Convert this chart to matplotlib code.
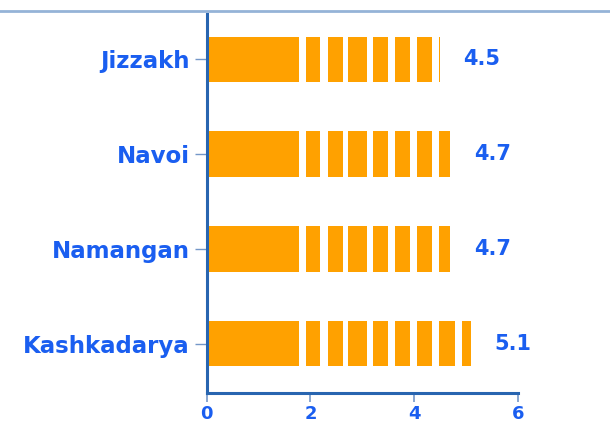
import matplotlib
matplotlib.use('Agg')
import matplotlib.pyplot as plt
from matplotlib.lines import Line2D

# data
regions = ['Kashkadarya', 'Namangan', 'Navoi', 'Jizzakh']
values = [5.1, 4.7, 4.7, 4.5]
xticks = [0, 2, 4, 6]

# white cuts across the bars (style only)
gaps = [(1.77, 1.91), (2.18, 2.34), (2.63, 2.72), (3.09, 3.20),
        (3.49, 3.63), (3.92, 4.05), (4.34, 4.48), (4.79, 4.92)]

bar_col = '#ffa100'
txt_col = '#1a5ef0'
spine_col = '#2865b0'
tick_col = '#7497c8'

fig = plt.figure(figsize=(6.1, 4.21), dpi=100)
ax = fig.add_axes([0.339, 0.0665, 0.51, 0.9005])

h = 0.48
for i, v in enumerate(values):
    segs = []
    start = 0.0
    for g0, g1 in gaps:
        if g0 >= v:
            break
        segs.append((start, g0 - start))
        start = g1
    if start < v:
        segs.append((start, v - start))
    ax.broken_barh(segs, (i - h / 2, h), facecolors=bar_col, edgecolor='none')
    ax.text(v + 0.45, i, '{}'.format(v), color=txt_col, fontsize=15,
            fontweight='bold', va='center', ha='left')

ax.set_xlim(0, 6)
ax.set_ylim(-0.52, 3.48)
ax.set_yticks(range(len(regions)))
ax.set_yticklabels(regions)
ax.set_xticks(xticks)

for s in ['top', 'right']:
    ax.spines[s].set_visible(False)
for s in ['left', 'bottom']:
    ax.spines[s].set_color(spine_col)
    ax.spines[s].set_linewidth(2.2)

ax.tick_params(axis='y', length=8.5, width=1, color=tick_col, pad=4,
               labelsize=16.5, labelcolor=txt_col)
ax.tick_params(axis='x', length=6.5, width=1.2, color=tick_col, pad=2,
               labelsize=13, labelcolor=txt_col)
for lab in ax.get_yticklabels() + ax.get_xticklabels():
    lab.set_fontweight('bold')

# thin frame line at the top of the picture
fig.add_artist(Line2D([0, 1], [1 - 10.5 / 421, 1 - 10.5 / 421],
                      transform=fig.transFigure, color='#95b3d7', lw=2))

fig.savefig('out.png', dpi=100)
